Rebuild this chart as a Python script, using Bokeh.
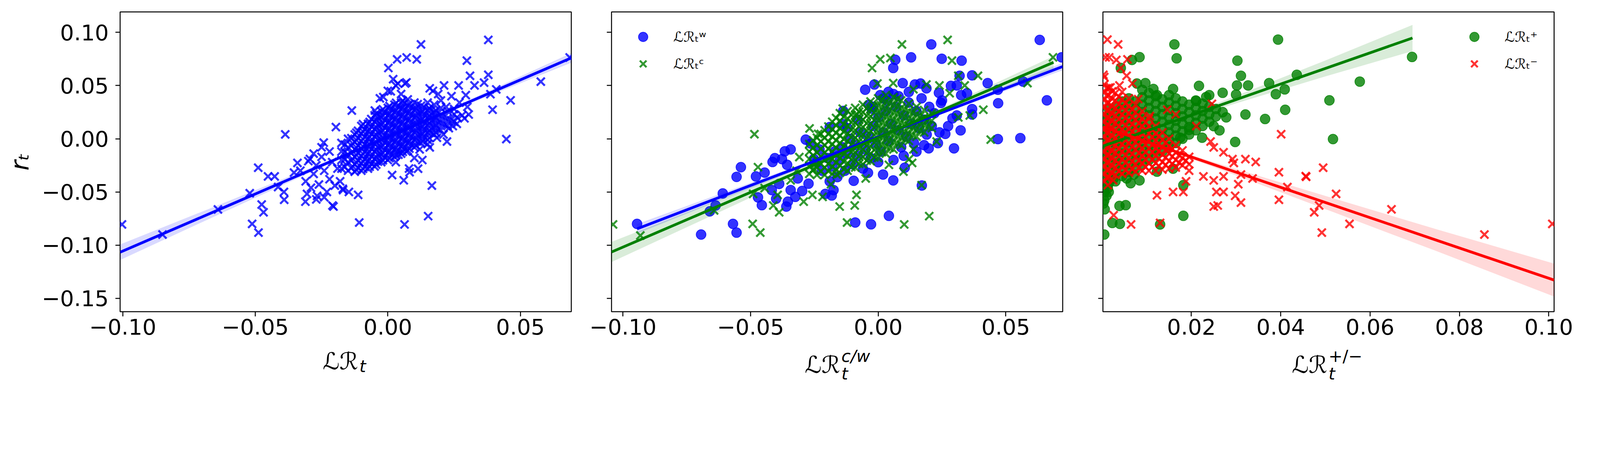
from bokeh.plotting import figure
from bokeh.models import (Range1d, FixedTicker, CustomJSTickFormatter, Div,
                          Legend, LegendItem)
from bokeh.core.properties import value
from bokeh.layouts import row, column
from bokeh.embed import file_html
from bokeh.resources import INLINE

# ---------------- axes / ticks ----------------
Y_RANGE = (-0.1625, 0.1192)
Y_TICKS = [-0.15, -0.10, -0.05, 0.00, 0.05, 0.10]
X_RANGE_A = (-0.1010, 0.0692)
X_RANGE_B = (-0.1045, 0.0723)
X_RANGE_C = (0.0002, 0.1012)
X_TICKS_AB = [-0.10, -0.05, 0.00, 0.05]
X_TICKS_C = [0.02, 0.04, 0.06, 0.08, 0.10]
Y_LABEL = "rₜ"

# ---------------- panel 1 : LR_t vs r_t ----------------
LR_OUT = [(-0.1003,-0.0805),(-0.0850,-0.0900),(-0.0641,-0.0664),(-0.0521,-0.0512),(-0.0489,-0.0272),
          (-0.0452,-0.0354),(-0.0427,-0.0354),(-0.0387,0.0041),(-0.0512,-0.0800),(-0.0488,-0.0882),
          (-0.0476,-0.0618),(-0.0469,-0.0691),(-0.0414,-0.0454),(-0.0392,-0.0500),(-0.0391,-0.0573),
          (-0.0311,-0.0591),(-0.0305,-0.0518),(-0.0267,-0.0536),(-0.0209,-0.0627),(-0.0205,-0.0637),
          (-0.0112,-0.0527),(-0.0108,-0.0787),(0.0063,-0.0805),(0.0152,-0.0727),(0.0166,-0.0440),
          (0.0060,-0.0390),(0.0016,-0.0341),(0.0114,-0.0281),(0.0082,-0.0314),(-0.0147,-0.0500),
          (-0.0169,-0.0482),(-0.0341,-0.0227),(-0.0354,-0.0318),(-0.0294,-0.0190),(-0.0242,-0.0036),
          (-0.0196,0.0110),(-0.0136,0.0265),(-0.0049,0.0265),(0.0002,0.0665),(0.0035,0.0746),
          (0.0071,0.0764),(0.0109,0.0746),(0.0125,0.0887),(0.0379,0.0929),(0.0298,0.0734),
          (0.0310,0.0592),(0.0379,0.0601),(0.0577,0.0537),(0.0686,0.0764),(0.0463,0.0361),
          (0.0395,0.0273),(0.0447,-0.0003),(0.0327,0.0501),(0.0363,0.0528),(0.0409,0.0464),
          (0.0387,0.0419),(0.0305,0.0228),(0.0267,0.0501),(0.0294,0.0410),(0.0212,0.0501),
          (0.0158,0.0474),(0.0223,-0.0026),(0.0245,0.0119),(0.0261,0.0201),(0.0289,0.0192),
          (0.0038,0.0519),(0.0065,0.0519),(0.0011,0.0446),(-0.0017,0.0392),(0.0158,-0.0081),
          (0.0185,0.0010)]
LR_MID = [(-0.033,-0.030),(-0.031,-0.040),(-0.030,-0.021),(-0.029,-0.046),(-0.028,-0.033),
          (-0.027,-0.025),(-0.026,-0.043),(-0.025,-0.017),(-0.024,-0.030),(-0.023,-0.050),
          (-0.022,-0.038),(-0.021,-0.022),(-0.020,-0.044),(-0.019,-0.028),(-0.022,-0.012),
          (-0.025,-0.008),(-0.028,-0.014),(-0.018,-0.040),(-0.017,-0.047),(-0.024,-0.055),
          (-0.027,-0.057),(0.020,0.036),(0.022,0.030),(0.025,0.028),(0.027,0.034),(0.024,0.040),
          (0.028,0.022),(0.030,0.030),(0.026,0.014),(0.023,0.010),(0.021,0.004),(0.019,0.042),
          (0.017,0.045),(0.000,0.045),(0.003,0.050),(0.005,0.042),(-0.003,0.038),(0.007,0.053),
          (0.002,0.056),(0.004,-0.015),(0.007,-0.012),(0.010,-0.018),(0.012,-0.010),(0.015,-0.005),
          (0.003,-0.022),(0.008,-0.028),(0.013,-0.020)]
LR_CORE_X = [-0.0175,-0.015,-0.0125,-0.010,-0.0075,-0.005,-0.0025,0.000,0.0025,0.005,
             0.0075,0.010,0.0125,0.015,0.0175,0.020,0.0225,0.025,
             -0.01625,-0.01375,-0.01125,-0.00875,-0.00625,-0.00375,-0.00125,0.00125,0.00375,
             0.00625,0.00875,0.01125,0.01375,0.01625,0.01875,0.02125,0.02375,
             -0.011875,-0.009375,-0.006875,-0.004375,-0.001875,0.000625,0.003125,0.005625,
             0.008125,0.010625,0.013125,0.015625,0.018125]
LR_CORE_Y = [[-0.028,-0.020,-0.012,-0.004],
             [-0.030,-0.022,-0.015,-0.008,0.000],
             [-0.031,-0.024,-0.017,-0.010,-0.003,0.004],
             [-0.030,-0.023,-0.016,-0.009,-0.002,0.005,0.012],
             [-0.028,-0.021,-0.014,-0.007,0.000,0.007,0.014],
             [-0.026,-0.019,-0.012,-0.005,0.002,0.009,0.016,0.022],
             [-0.022,-0.015,-0.008,-0.001,0.006,0.013,0.020,0.026],
             [-0.020,-0.013,-0.006,0.001,0.008,0.015,0.022,0.029],
             [-0.017,-0.010,-0.003,0.004,0.011,0.018,0.025,0.032],
             [-0.014,-0.007,0.000,0.007,0.014,0.021,0.028,0.034],
             [-0.011,-0.004,0.003,0.010,0.017,0.024,0.031,0.037],
             [-0.008,-0.001,0.006,0.013,0.020,0.027,0.034],
             [-0.004,0.003,0.010,0.017,0.024,0.031],
             [-0.001,0.006,0.013,0.020,0.027,0.034],
             [0.004,0.011,0.018,0.025,0.032],
             [0.008,0.015,0.022,0.029],
             [0.012,0.019,0.026],
             [0.016,0.023],
             [-0.0265,-0.0195,-0.0125,-0.0055],
             [-0.0275,-0.0205,-0.0135,-0.0065,0.0005],
             [-0.0275,-0.0205,-0.0135,-0.0065,0.0005,0.0075],
             [-0.0265,-0.0195,-0.0125,-0.0055,0.0015,0.0085],
             [-0.0235,-0.0165,-0.0095,-0.0025,0.0045,0.0115,0.0185],
             [-0.0215,-0.0145,-0.0075,-0.0005,0.0065,0.0135,0.0205],
             [-0.0175,-0.0105,-0.0035,0.0035,0.0105,0.0175,0.0245],
             [-0.0145,-0.0075,-0.0005,0.0065,0.0135,0.0205,0.0275],
             [-0.0115,-0.0045,0.0025,0.0095,0.0165,0.0235,0.0305],
             [-0.0085,-0.0015,0.0055,0.0125,0.0195,0.0265,0.0335],
             [-0.0055,0.0015,0.0085,0.0155,0.0225,0.0295],
             [-0.0025,0.0045,0.0115,0.0185,0.0255,0.0325],
             [0.0015,0.0085,0.0155,0.0225,0.0295],
             [0.0055,0.0125,0.0195,0.0265],
             [0.0095,0.0165,0.0235],
             [0.0135,0.0205],
             [0.0175],
             [-0.02925,-0.02225,-0.01525,-0.00825,-0.00125,0.00575],
             [-0.02825,-0.02125,-0.01425,-0.00725,-0.00025,0.00675,0.01375],
             [-0.02625,-0.01925,-0.01225,-0.00525,0.00175,0.00875,0.01575],
             [-0.02425,-0.01725,-0.01025,-0.00325,0.00375,0.01075,0.01775,0.02375],
             [-0.02025,-0.01325,-0.00625,0.00075,0.00775,0.01475,0.02175,0.02775],
             [-0.01825,-0.01125,-0.00425,0.00275,0.00975,0.01675,0.02375,0.03075],
             [-0.01525,-0.00825,-0.00125,0.00575,0.01275,0.01975,0.02675,0.03375],
             [-0.01225,-0.00525,0.00175,0.00875,0.01575,0.02275,0.02975,0.03575],
             [-0.00925,-0.00225,0.00475,0.01175,0.01875,0.02575,0.03275],
             [-0.00625,0.00075,0.00775,0.01475,0.02175,0.02875],
             [-0.00225,0.00475,0.01175,0.01875,0.02575],
             [0.00075,0.00775,0.01475,0.02175,0.02875],
             [0.00575,0.01275,0.01975,0.02675]]
FIT_A_X = [-0.1010, -0.060, -0.020, 0.002, 0.030, 0.0692]
FIT_A_Y = [-0.1066, -0.0626, -0.0197, 0.0039, 0.0339, 0.0760]
FIT_A_H = [0.0073, 0.0042, 0.0016, 0.0010, 0.0018, 0.0045]

# ---------------- panel 2 : LR^w (circles) and LR^c (x) ----------------
W_OUT = [(-0.0945,-0.0800),(-0.0694,-0.0900),(-0.0569,-0.0800),(-0.0555,-0.0882),(-0.0660,-0.0682),
         (-0.0637,-0.0627),(-0.0609,-0.0514),(-0.0538,-0.0267),(-0.0555,-0.0358),(-0.0479,-0.0354),
         (-0.0471,-0.0551),(-0.0456,-0.0624),(-0.0445,-0.0318),(-0.0417,-0.0482),(-0.0414,-0.0218),
         (-0.0405,-0.0182),(-0.0388,-0.0424),(-0.0377,-0.0191),(-0.0366,-0.0118),(-0.0343,-0.0100),
         (-0.0357,-0.0245),(-0.0400,-0.0564),(-0.0360,-0.0637),(-0.0354,-0.0591),(-0.0343,-0.0482),
         (-0.0325,-0.0546),(-0.0298,-0.0491),(-0.0315,-0.0373),(-0.0284,-0.0008),(-0.0264,-0.0045),
         (-0.0273,-0.0422),(-0.0207,-0.0518),(-0.0182,-0.0533),(-0.0175,-0.0482),(-0.0252,-0.0191),
         (-0.0230,-0.0100),(-0.0190,0.0110),(-0.0139,0.0137),(-0.0137,0.0261),(-0.0096,-0.0395),
         (-0.0090,-0.0787),(-0.0028,-0.0804),(0.0042,-0.0724),(0.0019,-0.0336),(0.0059,-0.0391),
         (0.0104,-0.0272),(0.0171,-0.0439),(-0.0051,0.0461),(0.0059,0.0665),(0.0067,0.0742),
         (0.0129,0.0765),(0.0208,0.0887),(0.0249,0.0752),(0.0327,0.0734),(0.0633,0.0929),
         (0.0719,0.0765),(0.0096,0.0523),(0.0144,0.0510),(0.0166,0.0519),(0.0189,0.0474),
         (0.0238,0.0432),(0.0285,0.0497),(0.0308,0.0501),(0.0319,0.0592),(0.0368,0.0596),
         (0.0429,0.0523),(0.0469,0.0461),(0.0568,0.0537),(0.0470,0.0334),(0.0661,0.0361),
         (0.0469,-0.0003),(0.0557,0.0006),(0.0297,-0.0090),(0.0198,-0.0090),(0.0234,-0.0041),
         (0.0263,0.0046),(0.0323,0.0079),(0.0368,0.0228),(0.0368,0.0279),(0.0348,0.0428),
         (0.0325,0.0410),(0.0308,0.0219),(0.0291,0.0192),(0.0274,0.0119),(0.0246,0.0337),
         (0.0008,0.0410),(-0.0026,0.0283),(-0.0037,0.0319),(0.0036,0.0355),(-0.0015,0.0510)]
W_CORE = [(-0.015,-0.020),(-0.014,-0.008),(-0.013,-0.030),(-0.012,-0.014),(-0.011,0.000),
          (-0.010,-0.024),(-0.009,-0.006),(-0.008,-0.016),(-0.007,0.006),(-0.006,-0.028),
          (-0.005,-0.010),(-0.004,0.002),(-0.003,-0.018),(-0.002,0.012),(-0.001,-0.004),
          (0.000,0.020),(0.001,-0.012),(0.002,0.006),(0.003,0.026),(0.004,-0.002),
          (0.005,0.014),(0.006,-0.020),(0.007,0.030),(0.008,0.008),(0.009,-0.008),
          (0.010,0.022),(0.011,0.002),(0.012,0.034),(0.013,0.014),(0.014,-0.004),
          (0.015,0.026),(0.016,0.010),(0.017,0.038),(0.018,0.018),(0.019,0.004),
          (0.020,0.030),(0.021,0.012),(0.022,0.024),(-0.018,-0.026),(-0.017,-0.012),
          (-0.016,-0.036),(-0.020,-0.018),(-0.022,-0.030),(-0.024,-0.022),(-0.019,-0.040),
          (0.002,0.038),(0.006,0.042),(-0.002,0.030),(0.010,-0.016),(0.015,-0.012),
          (0.012,0.044),(0.000,-0.022),(-0.004,-0.032),(0.004,0.044),(0.008,0.040),
          (0.024,0.006),(0.025,0.036),(-0.008,0.018),(-0.012,0.010),(0.018,-0.006)]
C_OUT = [(-0.1039,-0.0805),(-0.0932,-0.0909),(-0.0643,-0.0673),(-0.0492,-0.0800),(-0.0462,-0.0882),
         (-0.0485,0.0043),(-0.0471,-0.0267),(-0.0411,-0.0627),(-0.0388,-0.0691),(-0.0394,-0.0527),
         (-0.0490,-0.0518),(-0.0445,-0.0464),(-0.0292,-0.0591),(-0.0258,-0.0527),(-0.0218,-0.0546),
         (-0.0151,-0.0637),(-0.0092,-0.0627),(-0.0085,-0.0527),(-0.0122,-0.0787),(0.0102,-0.0805),
         (0.0200,-0.0727),(0.0170,-0.0436),(0.0133,-0.0227),(0.0099,-0.0309),(0.0042,-0.0245),
         (-0.0049,-0.0373),(-0.0269,0.0097),(-0.0235,0.0046),(-0.0139,0.0283),(-0.0083,0.0228),
         (-0.0024,0.0665),(0.0008,0.0746),(0.0048,0.0759),(0.0093,0.0887),(0.0272,0.0929),
         (0.0289,0.0734),(0.0314,0.0592),(0.0391,0.0592),(0.0585,0.0523),(0.0685,0.0765),
         (0.0441,-0.0008),(0.0412,0.0273),(0.0359,0.0219),(0.0339,0.0501),(0.0240,0.0501),
         (0.0189,0.0510),(0.0138,0.0465),(0.0059,0.0523),(-0.0003,0.0519),(0.0280,0.0428),
         (0.0314,0.0201),(0.0229,-0.0026),(0.0138,-0.0100),(0.0121,-0.0191),(-0.0309,-0.0172),
         (-0.0320,-0.0300),(-0.0343,-0.0391),(-0.0252,-0.0282),(-0.0185,-0.0427),(-0.0162,-0.0336)]
C_CORE_X = [-0.027,-0.024,-0.021,-0.018,-0.015,-0.012,-0.009,-0.006,-0.003,0.000,
            0.003,0.006,0.009,0.012,0.015,0.018,0.021,
            -0.0255,-0.0225,-0.0195,-0.0165,-0.0135,-0.0105,-0.0075,-0.0045,-0.0015,
            0.0015,0.0045,0.0075,0.0105,0.0135,0.0165,0.0195]
C_CORE_Y = [[-0.033,-0.026,-0.019,-0.012,-0.005],
            [-0.034,-0.027,-0.020,-0.013,-0.006,0.001],
            [-0.034,-0.027,-0.020,-0.013,-0.006,0.001,0.008],
            [-0.033,-0.026,-0.019,-0.012,-0.005,0.002,0.009,0.016],
            [-0.032,-0.025,-0.018,-0.011,-0.004,0.003,0.010,0.017,0.024],
            [-0.030,-0.023,-0.016,-0.009,-0.002,0.005,0.012,0.019,0.026],
            [-0.027,-0.020,-0.013,-0.006,0.001,0.008,0.015,0.022,0.029],
            [-0.024,-0.017,-0.010,-0.003,0.004,0.011,0.018,0.025,0.032],
            [-0.021,-0.014,-0.007,0.000,0.007,0.014,0.021,0.028,0.035],
            [-0.018,-0.011,-0.004,0.003,0.010,0.017,0.024,0.031,0.038],
            [-0.014,-0.007,0.000,0.007,0.014,0.021,0.028,0.035,0.041],
            [-0.010,-0.003,0.004,0.011,0.018,0.025,0.032,0.039],
            [-0.006,0.001,0.008,0.015,0.022,0.029,0.036],
            [-0.002,0.005,0.012,0.019,0.026,0.033],
            [0.002,0.009,0.016,0.023,0.030],
            [0.006,0.013,0.020,0.027],
            [0.010,0.017,0.024],
            [-0.0295,-0.0225,-0.0155,-0.0085,-0.0015],
            [-0.0305,-0.0235,-0.0165,-0.0095,-0.0025,0.0045],
            [-0.0305,-0.0235,-0.0165,-0.0095,-0.0025,0.0045,0.0115],
            [-0.0295,-0.0225,-0.0155,-0.0085,-0.0015,0.0055,0.0125,0.0195],
            [-0.0285,-0.0215,-0.0145,-0.0075,-0.0005,0.0065,0.0135,0.0205],
            [-0.0265,-0.0195,-0.0125,-0.0055,0.0015,0.0085,0.0155,0.0225],
            [-0.0235,-0.0165,-0.0095,-0.0025,0.0045,0.0115,0.0185,0.0255],
            [-0.0205,-0.0135,-0.0065,0.0005,0.0075,0.0145,0.0215,0.0285],
            [-0.0175,-0.0105,-0.0035,0.0035,0.0105,0.0175,0.0245,0.0315],
            [-0.0125,-0.0055,0.0015,0.0085,0.0155,0.0225,0.0295,0.0365],
            [-0.0085,-0.0015,0.0055,0.0125,0.0195,0.0265,0.0335],
            [-0.0045,0.0025,0.0095,0.0165,0.0235,0.0305,0.0375],
            [-0.0005,0.0065,0.0135,0.0205,0.0275],
            [0.0035,0.0105,0.0175,0.0245],
            [0.0075,0.0145,0.0215],
            [0.0115,0.0185]]
FIT_W_X = [-0.0945, -0.050, -0.010, 0.003, 0.030, 0.0723]
FIT_W_Y = [-0.0846, -0.0439, -0.0074, 0.0045, 0.0292, 0.0679]
FIT_W_H = [0.0045, 0.0025, 0.0010, 0.0008, 0.0015, 0.0035]
FIT_C_X = [-0.1045, -0.050, -0.010, 0.002, 0.030, 0.0687]
FIT_C_Y = [-0.1064, -0.0503, -0.0092, 0.0032, 0.0320, 0.0718]
FIT_C_H = [0.0095, 0.0050, 0.0017, 0.0012, 0.0025, 0.0058]

# ---------------- panel 3 : LR^+ (circles) and LR^- (x) ----------------
P_OUT = [(0.0394,0.0932),(0.0162,0.0887),(0.0167,0.0756),(0.0084,0.0767),(0.0067,0.0741),
         (0.0042,0.0665),(0.0303,0.0734),(0.0311,0.0592),(0.0436,0.0601),(0.0694,0.0769),
         (0.0577,0.0537),(0.0374,0.0523),(0.0327,0.0501),(0.0302,0.0501),(0.0409,0.0464),
         (0.0389,0.0419),(0.0509,0.0361),(0.0410,0.0272),(0.0365,0.0186),(0.0321,0.0228),
         (0.0300,0.0415),(0.0270,0.0432),(0.0217,0.0497),(0.0159,0.0468),(0.0115,0.0468),
         (0.0097,0.0523),(0.0078,0.0519),(0.0123,0.0410),(0.0517,-0.0003),(0.0298,-0.0030),
         (0.0278,0.0201),(0.0263,0.0079),(0.0250,0.0119),(0.0240,0.0410),(0.0233,0.0392),
         (0.0211,0.0355),(0.0182,-0.0724),(0.0130,-0.0805),(0.0040,-0.0800),(0.0023,-0.0791),
         (0.0039,-0.0631),(0.0053,-0.0624),(0.0005,-0.0900),(0.0006,-0.0663),(0.0084,-0.0391),
         (0.0064,-0.0418),(0.0071,-0.0336),(0.0055,-0.0373),(0.0013,-0.0464),(0.0010,-0.0536),
         (0.0003,-0.0609),(0.0026,-0.0373),(0.0123,-0.0309),(0.0159,-0.0281),(0.0182,-0.0436),
         (0.0224,0.0010),(0.0195,0.0083),(0.0175,0.0010),(0.0135,0.037),(0.015,0.041),
         (0.0165,0.038),(0.012,0.040),(0.018,0.035),(0.0195,0.032),(0.021,0.036),(0.0225,0.033),
         (0.024,0.030),(0.0255,0.028),(0.0255,0.021),(0.027,0.025),(0.0105,0.043),(0.009,0.046)]
P_CORE_X = [0.0005,0.0015,0.003,0.0045,0.006,0.0075,0.009,0.0105,0.012,0.0135,
            0.015,0.0165,0.018,0.0195,0.021,0.0225,0.024]
P_CORE_Y = [[-0.058,-0.050,-0.043,-0.036,-0.029,-0.022,-0.015,-0.008,-0.001,0.006,0.013,0.020],
            [-0.050,-0.042,-0.035,-0.028,-0.021,-0.014,-0.007,0.000,0.007,0.014,0.021,0.028],
            [-0.040,-0.033,-0.026,-0.019,-0.012,-0.005,0.002,0.009,0.016,0.023,0.030],
            [-0.035,-0.028,-0.021,-0.014,-0.007,0.000,0.007,0.014,0.021,0.028,0.035],
            [-0.031,-0.024,-0.017,-0.010,-0.003,0.004,0.011,0.018,0.025,0.032,0.038],
            [-0.028,-0.021,-0.014,-0.007,0.000,0.007,0.014,0.021,0.028,0.035],
            [-0.024,-0.017,-0.010,-0.003,0.004,0.011,0.018,0.025,0.032,0.039],
            [-0.020,-0.013,-0.006,0.001,0.008,0.015,0.022,0.029,0.036],
            [-0.016,-0.009,-0.002,0.005,0.012,0.019,0.026,0.033],
            [-0.012,-0.005,0.002,0.009,0.016,0.023,0.030],
            [-0.008,-0.001,0.006,0.013,0.020,0.027,0.034],
            [-0.004,0.003,0.010,0.017,0.024,0.031],
            [0.000,0.007,0.014,0.021,0.028],
            [0.004,0.011,0.018,0.025],
            [0.008,0.015,0.022,0.029],
            [0.012,0.019,0.026],
            [0.016,0.023]]
N_OUT = [(0.0012,0.0932),(0.0036,0.0887),(0.0008,0.0765),(0.0016,0.0765),(0.0032,0.0741),
         (0.0057,0.0746),(0.0042,0.0665),(0.0055,0.0592),(0.0003,0.0601),(0.0401,0.0043),
         (0.0396,-0.0314),(0.0456,-0.0351),(0.0457,-0.0358),(0.0495,-0.0272),(0.0524,-0.0518),
         (0.0415,-0.0454),(0.0396,-0.0573),(0.0486,-0.0627),(0.0475,-0.0691),(0.0554,-0.0800),
         (0.0492,-0.0882),(0.0648,-0.0663),(0.0856,-0.0900),(0.1008,-0.0800),(0.0344,-0.0218),
         (0.0321,-0.0191),(0.0292,-0.0191),(0.0272,-0.0127),(0.0243,-0.0026),(0.0250,-0.0081),
         (0.0295,-0.0227),(0.0311,-0.0336),(0.0337,-0.0373),(0.0305,-0.0427),(0.0298,-0.0536),
         (0.0311,-0.0600),(0.0272,-0.0500),(0.0259,-0.0627),(0.0250,-0.0637),(0.0256,-0.0500),
         (0.0272,-0.0354),(0.0250,-0.0391),(0.0227,-0.0354),(0.0195,-0.0300),(0.0188,-0.0400),
         (0.0182,-0.0500),(0.0159,-0.0500),(0.0123,-0.0531),(0.0130,-0.0791),(0.0065,-0.0805),
         (0.0026,-0.0718),(0.0013,-0.0436),(0.0025,-0.0391),(0.0211,0.0119),(0.0246,0.0328),
         (0.0165,0.0228),(0.0146,0.0273),(0.0107,0.0213),(0.0081,0.0373),(0.0068,0.0519),
         (0.0039,0.0501),(0.0019,0.0483)]
N_CORE_X = [0.0005,0.0015,0.003,0.0045,0.006,0.0075,0.009,0.0105,0.012,0.0135,
            0.015,0.0165,0.018,0.0195,
            0.001,0.00225,0.00375,0.00525,0.00675,0.00825,0.00975,0.01125,0.01275,
            0.01425,0.01575,0.01725,0.01875]
N_CORE_Y = [[-0.040,-0.033,-0.026,-0.019,-0.012,-0.005,0.002,0.009,0.016,0.023,0.030,0.037,0.044,0.051,0.058],
            [-0.036,-0.029,-0.022,-0.015,-0.008,-0.001,0.006,0.013,0.020,0.027,0.034,0.041,0.048],
            [-0.034,-0.027,-0.020,-0.013,-0.006,0.001,0.008,0.015,0.022,0.029,0.036,0.043],
            [-0.033,-0.026,-0.019,-0.012,-0.005,0.002,0.009,0.016,0.023,0.030,0.037,0.044],
            [-0.032,-0.025,-0.018,-0.011,-0.004,0.003,0.010,0.017,0.024,0.031,0.038],
            [-0.031,-0.024,-0.017,-0.010,-0.003,0.004,0.011,0.018,0.025,0.032],
            [-0.030,-0.023,-0.016,-0.009,-0.002,0.005,0.012,0.019,0.026],
            [-0.030,-0.023,-0.016,-0.009,-0.002,0.005,0.012,0.019],
            [-0.030,-0.023,-0.016,-0.009,-0.002,0.005,0.012],
            [-0.029,-0.022,-0.015,-0.008,-0.001,0.006],
            [-0.028,-0.021,-0.014,-0.007,0.000],
            [-0.027,-0.020,-0.013,-0.006],
            [-0.025,-0.018,-0.011],
            [-0.024,-0.017],
            [-0.0365,-0.0295,-0.0225,-0.0155,-0.0085,-0.0015,0.0055,0.0125,0.0195,0.0265,0.0335,0.0405,0.0475],
            [-0.0325,-0.0255,-0.0185,-0.0115,-0.0045,0.0025,0.0095,0.0165,0.0235,0.0305,0.0375,0.0445],
            [-0.0305,-0.0235,-0.0165,-0.0095,-0.0025,0.0045,0.0115,0.0185,0.0255,0.0325,0.0395],
            [-0.0295,-0.0225,-0.0155,-0.0085,-0.0015,0.0055,0.0125,0.0195,0.0265,0.0335],
            [-0.0285,-0.0215,-0.0145,-0.0075,-0.0005,0.0065,0.0135,0.0205,0.0275],
            [-0.0275,-0.0205,-0.0135,-0.0065,0.0005,0.0075,0.0145,0.0215],
            [-0.0265,-0.0195,-0.0125,-0.0055,0.0015,0.0085,0.0155],
            [-0.0265,-0.0195,-0.0125,-0.0055,0.0015,0.0085],
            [-0.0255,-0.0185,-0.0115,-0.0045,0.0025],
            [-0.0245,-0.0175,-0.0105,-0.0035],
            [-0.0235,-0.0165,-0.0095],
            [-0.0225,-0.0155],
            [-0.0205]]
FIT_P_X = [0.0002, 0.005, 0.015, 0.030, 0.050, 0.0695]
FIT_P_Y = [-0.0069, 0.0001, 0.0148, 0.0368, 0.0661, 0.0947]
FIT_P_H = [0.0015, 0.0009, 0.0012, 0.0035, 0.0075, 0.0123]
FIT_N_X = [0.0002, 0.005, 0.015, 0.030, 0.050, 0.075, 0.1012]
FIT_N_Y = [0.0111, 0.0043, -0.0100, -0.0314, -0.0599, -0.0955, -0.1328]
FIT_N_H = [0.0015, 0.0009, 0.0012, 0.0030, 0.0062, 0.0103, 0.0155]

LEGEND_B = ["ℒℛₜʷ", "ℒℛₜᶜ"]
LEGEND_C = ["ℒℛₜ⁺", "ℒℛₜ⁻"]
XLABEL_MAIN = "ℒℛ"
XLABEL_A = [("t", "sub")]
XLABEL_B = [("c/w", "sup"), ("t", "sub")]
XLABEL_C = [("+/\u2212", "sup"), ("t", "sub")]

# ---------------- helpers ----------------
FONT = "DejaVu Sans"
BLUE, GREEN, RED = "#0000ff", "#008000", "#ff0000"
FW, FH = 1155, 767
BOTTOM = 90


def pts(points):
    return [p[0] for p in points], [p[1] for p in points]


def cols(xs, yss):
    ox, oy = [], []
    for xv, ys in zip(xs, yss):
        for yv in ys:
            ox.append(xv)
            oy.append(yv)
    return ox, oy


def make_fig(xr, xticks, left, right, show_y):
    p = figure(frame_width=FW, frame_height=FH,
               x_range=Range1d(*xr), y_range=Range1d(*Y_RANGE),
               output_backend="svg", toolbar_location=None,
               min_border_left=left, min_border_right=right,
               min_border_top=30, min_border_bottom=BOTTOM,
               background_fill_color="white", border_fill_color="white")
    p.grid.visible = False
    p.outline_line_color = "black"
    p.outline_line_width = 2.5
    p.outline_line_alpha = 1.0
    for ax in p.axis:
        ax.axis_line_color = None
        ax.major_tick_out = 12
        ax.major_tick_in = 0
        ax.major_tick_line_width = 2.5
        ax.major_tick_line_color = "black"
        ax.minor_tick_line_color = None
        ax.major_label_text_font = FONT
        ax.major_label_text_font_size = "56px"
        ax.major_label_text_color = "black"
    p.xaxis.ticker = FixedTicker(ticks=xticks)
    p.yaxis.ticker = FixedTicker(ticks=Y_TICKS)
    fmt = "return tick.toFixed(2).replace('-', '\u2212');"
    p.xaxis.formatter = CustomJSTickFormatter(code=fmt)
    p.xaxis.major_label_standoff = 6
    p.yaxis.major_label_standoff = 17
    if show_y:
        p.yaxis.formatter = CustomJSTickFormatter(code=fmt)
        p.yaxis.axis_label = Y_LABEL
        p.yaxis.axis_label_text_font = FONT
        p.yaxis.axis_label_text_font_size = "64px"
        p.yaxis.axis_label_text_font_style = "italic"
        p.yaxis.axis_label_text_color = "black"
        p.yaxis.axis_label_standoff = 16
    else:
        p.yaxis.formatter = CustomJSTickFormatter(code="return '';")
    return p


def xlabel(fig_w, anchor, main_top, parts, tops):
    html = ('<div style="position:relative;width:%dpx;height:110px;'
            'font-family:\'DejaVu Sans\';color:black;">' % fig_w)
    html += ('<span style="position:absolute;right:%dpx;top:%.1fpx;font-size:60px;'
             'line-height:1;white-space:nowrap;">%s</span>' % (fig_w - anchor, main_top, XLABEL_MAIN))
    for text, kind in parts:
        style = "normal" if kind == "sup" and text.startswith("+") else "italic"
        html += ('<span style="position:absolute;left:%dpx;top:%.1fpx;font-size:43px;'
                 'line-height:1;white-space:nowrap;font-style:%s;">%s</span>'
                 % (anchor + 3, tops[kind], style, text))
    html += '</div>'
    return Div(text=html, width=fig_w, height=110, margin=0)


def band(p, xs, ys, hs, color):
    lo = [a - b for a, b in zip(ys, hs)]
    hi = [a + b for a, b in zip(ys, hs)]
    p.varea(x=xs, y1=lo, y2=hi, fill_color=color, fill_alpha=0.15)


def xs_(p, x, y, color):
    return p.scatter(x, y, marker="x", size=29, line_color=color, line_alpha=0.8, line_width=5.2)


def circ_(p, x, y, color):
    return p.scatter(x, y, marker="circle", size=25, fill_color=color, fill_alpha=0.8,
                     line_color=color, line_alpha=0.8, line_width=1.8)


def legend(p, items, locx):
    lg = Legend(items=[LegendItem(label=value(t), renderers=[r]) for t, r in items],
                location=(locx, 604), glyph_width=60, glyph_height=60, label_height=60,
                label_standoff=48, spacing=9, padding=0, margin=0,
                border_line_alpha=0, background_fill_alpha=0,
                label_text_font=FONT, label_text_font_size="36px", label_text_color="black")
    p.add_layout(lg)

# ---------------- panel 1 ----------------
W1, W2, W3 = 307 + FW + 26, 77 + FW + 26, 77 + FW + 85
p1 = make_fig(X_RANGE_A, X_TICKS_AB, 307, 26, True)
ax1, ay1 = pts(LR_OUT)
bx1, by1 = pts(LR_MID)
cx1, cy1 = cols(LR_CORE_X, LR_CORE_Y)
xs_(p1, ax1 + bx1 + cx1, ay1 + by1 + cy1, BLUE)
band(p1, FIT_A_X, FIT_A_Y, FIT_A_H, BLUE)
p1.line(FIT_A_X, FIT_A_Y, line_color=BLUE, line_width=7)
d1 = xlabel(W1, 307 + 610, 7.2, XLABEL_A, {"sub": 28.6})

# ---------------- panel 2 ----------------
p2 = make_fig(X_RANGE_B, X_TICKS_AB, 77, 26, False)
wx1, wy1 = pts(W_OUT)
wx2, wy2 = pts(W_CORE)
rw = circ_(p2, wx1 + wx2, wy1 + wy2, BLUE)
band(p2, FIT_W_X, FIT_W_Y, FIT_W_H, BLUE)
gx1, gy1 = pts(C_OUT)
gx2, gy2 = cols(C_CORE_X, C_CORE_Y)
rc = xs_(p2, gx1 + gx2, gy1 + gy2, GREEN)
band(p2, FIT_C_X, FIT_C_Y, FIT_C_H, GREEN)
p2.line(FIT_W_X, FIT_W_Y, line_color=BLUE, line_width=7)
p2.line(FIT_C_X, FIT_C_Y, line_color=GREEN, line_width=7)
legend(p2, [(LEGEND_B[0], rw), (LEGEND_B[1], rc)], 51)
d2 = xlabel(W2, 77 + 586, 16.2, XLABEL_B, {"sup": 2.5, "sub": 48.0})

# ---------------- panel 3 ----------------
p3 = make_fig(X_RANGE_C, X_TICKS_C, 77, 85, False)
px1, py1 = pts(P_OUT)
px2, py2 = cols(P_CORE_X, P_CORE_Y)
rp = circ_(p3, px1 + px2, py1 + py2, GREEN)
band(p3, FIT_P_X, FIT_P_Y, FIT_P_H, GREEN)
nx1, ny1 = pts(N_OUT)
nx2, ny2 = cols(N_CORE_X, N_CORE_Y)
rn = xs_(p3, nx1 + nx2, ny1 + ny2, RED)
band(p3, FIT_N_X, FIT_N_Y, FIT_N_H, RED)
p3.line(FIT_P_X, FIT_P_Y, line_color=GREEN, line_width=7)
p3.line(FIT_N_X, FIT_N_Y, line_color=RED, line_width=7)
legend(p3, [(LEGEND_C[0], rp), (LEGEND_C[1], rn)], 921)
d3 = xlabel(W3, 77 + 575, 16.2, XLABEL_C, {"sup": 2.5, "sub": 48.0})

page = row(column(p1, d1, spacing=0), column(p2, d2, spacing=0),
           column(p3, d3, spacing=0), spacing=0)
with open("out.html", "w", encoding="utf-8") as f:
    f.write(file_html(page, INLINE))
